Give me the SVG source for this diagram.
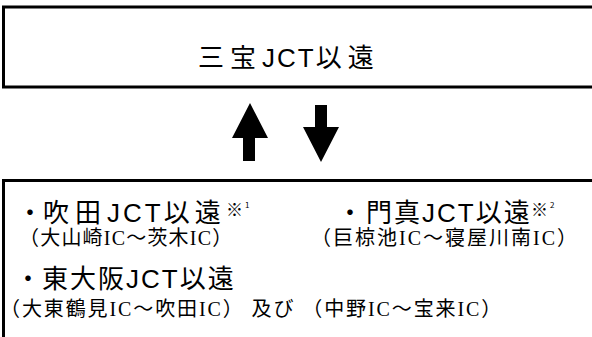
<svg xmlns="http://www.w3.org/2000/svg" width="592" height="337" viewBox="0 0 592 337">
<style>
.box{fill:#fff;stroke:#000;stroke-width:3}
.h{font-family:"Liberation Sans","Noto Sans CJK JP",sans-serif;fill:#000;font-size:26px}
.m{font-family:"Noto Sans CJK JP",sans-serif;fill:#000}
.s{font-family:"Liberation Serif","Noto Sans CJK JP",sans-serif;fill:#000;font-size:20px}
.arr{fill:#000}
</style>
<rect width="592" height="337" fill="#fff"/>
<g id="sanpo">
<rect class="box" x="3.5" y="7" width="600" height="80"/>
<text class="h" x="198" y="67" font-size="28" letter-spacing="6">三宝<tspan letter-spacing="2">JCT</tspan>以遠</text>
</g>
<g id="connectors">
<polygon class="arr" points="250,103 268,138 255,138 255,161 243,161 243,138 232,138"/>
<polygon class="arr" points="315,105 327,105 327,127 339,127 321,162 303,127 315,127"/>
</g>
<g id="destinations">
<rect class="box" x="3.5" y="180.5" width="600" height="200"/>
<g id="suita">
<text class="h" x="17" y="222">・<tspan x="43" letter-spacing="6">吹田</tspan><tspan letter-spacing="3">JCT</tspan><tspan letter-spacing="5">以遠</tspan></text>
<text class="m" x="226" y="216" font-size="17">※<tspan x="245" y="208" font-size="8">1</tspan></text>
<text class="s" x="19" y="245" letter-spacing="1.2">（大山崎IC～茨木IC）</text>
</g>
<g id="kadoma">
<text class="h" x="337" y="222">・<tspan x="366" letter-spacing="2">門真JCT以遠</tspan></text>
<text class="m" x="531" y="216" font-size="17">※<tspan x="550" y="208" font-size="8">2</tspan></text>
<text class="s" x="311" y="245" letter-spacing="2">（巨椋池IC～寝屋川南IC）</text>
</g>
<g id="higashiosaka">
<text class="h" x="15" y="288">・<tspan x="42" letter-spacing="2">東大阪JCT以遠</tspan></text>
<text class="s" x="0" y="316" letter-spacing="1.9">（大東鶴見IC～吹田IC） 及び （中野IC～宝来IC）</text>
</g>
</g>
</svg>
